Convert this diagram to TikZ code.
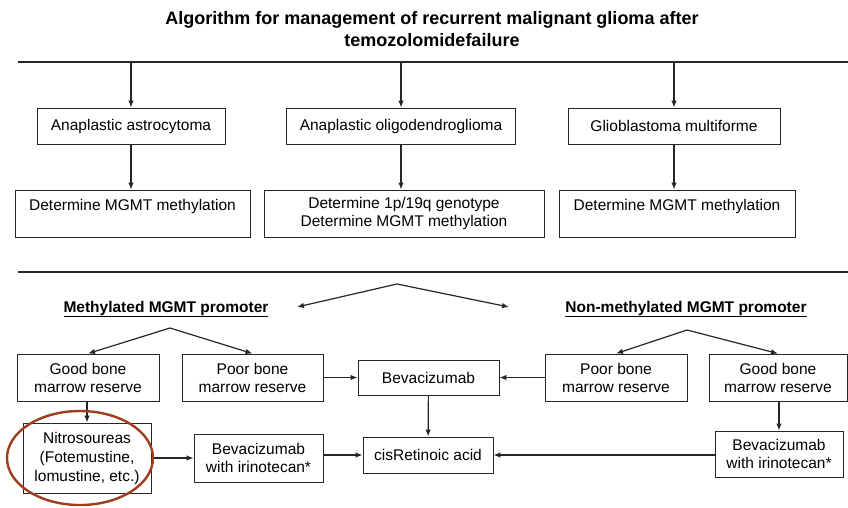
\documentclass[tikz,border=0pt]{standalone}
\usepackage{fontspec}
\setmainfont{Liberation Sans}
\usetikzlibrary{arrows.meta,shapes.geometric}
\definecolor{ringbrown}{RGB}{158,62,28}
\begin{document}
\begin{tikzpicture}[x=1pt,y=-1pt,
  box/.style={draw=black!85,line width=0.9pt,inner sep=0pt,align=center,font=\fontsize{15.5}{18}\selectfont},
  conn/.style={draw=black!85,line width=1.2pt,-{Latex[length=7pt,width=5.5pt]}},
  bar/.style={draw=black!85,line width=2.6pt},
  head/.style={font=\bfseries\fontsize{15.5}{18}\selectfont,align=center}]
\useasboundingbox (0,0) rectangle (848,507);
% title
\node[font=\bfseries\fontsize{18}{22}\selectfont,align=center] (title) at (432,29)
  {Algorithm for management of recurrent malignant glioma after\\temozolomidefailure};
% bars
\coordinate (bar1l) at (18,62); \coordinate (bar1r) at (848,62);
\coordinate (bar2l) at (18,272); \coordinate (bar2r) at (848,272);
\draw[bar] (bar1l) -- (bar1r);
\draw[bar] (bar2l) -- (bar2r);
% row 1
\node[box,minimum width=188pt,minimum height=36pt] (A1) at (131,126) {Anaplastic astrocytoma};
\node[box,minimum width=229pt,minimum height=36pt] (A2) at (401,126) {Anaplastic oligodendroglioma};
\node[box,minimum width=212pt,minimum height=36pt] (A3) at (674,126) {Glioblastoma multiforme};
\coordinate (t1) at (131,62); \coordinate (t2) at (401,62); \coordinate (t3) at (674,62);
\draw[conn] (t1) -- (A1);
\draw[conn] (t2) -- (A2);
\draw[conn] (t3) -- (A3);
% row 2
\node[box,minimum width=235pt,minimum height=47pt] (B1) at (132.5,213.5) {Determine MGMT methylation\\\phantom{X}};
\node[box,minimum width=280pt,minimum height=47pt] (B2) at (404,213.5) {Determine 1p/19q genotype\\Determine MGMT methylation};
\node[box,minimum width=236pt,minimum height=47pt] (B3) at (677,213.5) {Determine MGMT methylation\\\phantom{X}};
\draw[conn] (A1.south) -- (A1.south |- B1.north);
\draw[conn] (A2.south) -- (A2.south |- B2.north);
\draw[conn] (A3.south) -- (A3.south |- B3.north);
% split
\coordinate (peak) at (397,284);
\coordinate (sl) at (297,307); \coordinate (sr) at (509,307);
\draw[conn] (peak) -- (sl);
\draw[conn] (peak) -- (sr);
\node[head] (M) at (166,309) {\underline{Methylated MGMT promoter}};
\node[head] (N) at (686,309) {\underline{Non-methylated MGMT promoter}};
\coordinate (pl) at (170,328); \coordinate (pr) at (687,330);
% row 3
\node[box,minimum width=142pt,minimum height=47pt] (G1) at (88,377.5) {Good bone\\marrow reserve};
\node[box,minimum width=141pt,minimum height=47pt] (P1) at (252.5,377.5) {Poor bone\\marrow reserve};
\node[box,minimum width=141pt,minimum height=35pt] (Bev) at (428.5,377.5) {Bevacizumab};
\node[box,minimum width=142pt,minimum height=47pt] (P2) at (616,377.5) {Poor bone\\marrow reserve};
\node[box,minimum width=138pt,minimum height=47pt] (G2) at (778,377.5) {Good bone\\marrow reserve};
\draw[conn] (pl) -- (G1.north);
\draw[conn] (pl) -- (P1.north);
\draw[conn] (pr) -- (P2.north);
\draw[conn] (pr) -- (G2.north);
\draw[conn] (P1) -- (Bev);
\draw[conn] (P2) -- (Bev);
% row 4
\node[box,minimum width=128pt,minimum height=70pt,font=\fontsize{15.5}{19}\selectfont] (Nit) at (87,458) {Nitrosoureas\\(Fotemustine,\\lomustine, etc.)};
\node[box,minimum width=129pt,minimum height=48pt] (BI1) at (258.5,458) {Bevacizumab\\with irinotecan*};
\node[box,minimum width=130pt,minimum height=36pt] (Cis) at (428,455) {cisRetinoic acid};
\node[box,minimum width=128pt,minimum height=46pt] (BI2) at (779,454) {Bevacizumab\\with irinotecan*};
\draw[conn] (G1.south -| Nit.north) -- (Nit.north);
\draw[conn] (Bev) -- (Cis);
\draw[conn] (G2.south -| BI2.north) -- (BI2.north);
\draw[conn] (Nit) -- (BI1);
\draw[conn] (BI1.east |- Cis.west) -- (Cis.west);
\draw[conn] (BI2.west |- Cis.east) -- (Cis.east);
% highlight ring
\node[draw=ringbrown,line width=2.4pt,ellipse,minimum width=146pt,minimum height=94pt] (ring) at (80,458) {};
\end{tikzpicture}
\end{document}
